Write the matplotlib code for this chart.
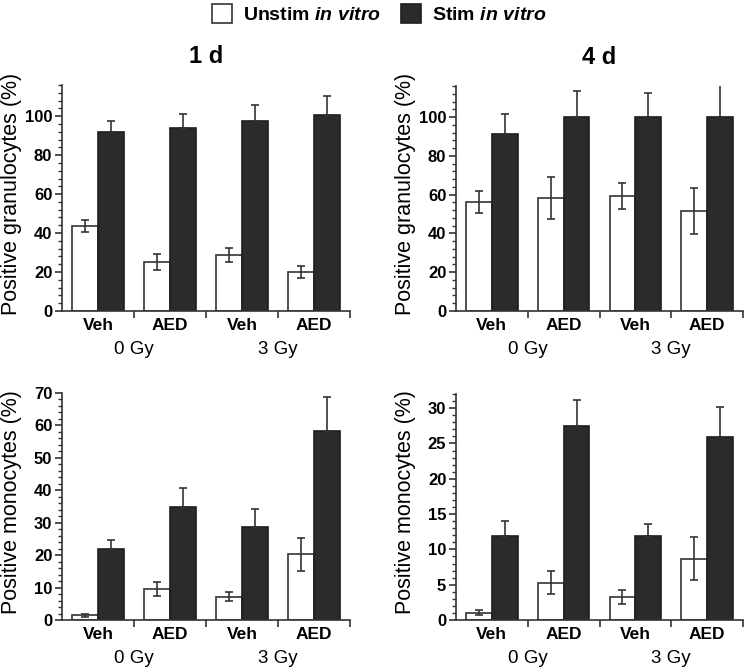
import matplotlib
matplotlib.use("Agg")
import matplotlib.pyplot as plt
from matplotlib.patches import Patch
from matplotlib.ticker import MultipleLocator, FixedLocator
import numpy as np

plt.rcParams['font.family'] = ['Liberation Sans', 'DejaVu Sans']
plt.rcParams['mathtext.fontset'] = 'custom'
plt.rcParams['mathtext.it'] = 'Liberation Sans:italic:bold'
plt.rcParams['mathtext.rm'] = 'Liberation Sans:bold'

# data
groups = ['Veh', 'AED', 'Veh', 'AED']
doses = ['0 Gy', '3 Gy']

gran_1d_unstim = [43.5, 25.3, 28.8, 20.0]
gran_1d_unstim_err = [3.2, 4.2, 3.7, 3.2]
gran_1d_stim = [91.7, 94.1, 97.4, 100.5]
gran_1d_stim_err = [5.6, 7.0, 8.2, 10.0]

gran_4d_unstim = [56.2, 58.3, 59.3, 51.6]
gran_4d_unstim_err = [5.5, 11.0, 6.6, 12.0]
gran_4d_stim = [91.3, 100.0, 100.0, 100.0]
gran_4d_stim_err = [10.4, 13.5, 12.2, 16.4]

mono_1d_unstim = [1.4, 9.6, 7.2, 20.2]
mono_1d_unstim_err = [0.4, 2.1, 1.4, 5.1]
mono_1d_stim = [22.0, 34.7, 28.7, 58.4]
mono_1d_stim_err = [2.7, 6.1, 5.6, 10.3]

mono_4d_unstim = [1.05, 5.3, 3.25, 8.7]
mono_4d_unstim_err = [0.4, 1.6, 0.95, 3.0]
mono_4d_stim = [11.9, 27.4, 11.9, 25.9]
mono_4d_stim_err = [2.1, 3.8, 1.7, 4.3]

W, H = 745, 671
fig = plt.figure(figsize=(W / 100, H / 100), dpi=100)


def px_axes(x0, y0, x1, y1):
    return fig.add_axes([x0 / W, 1 - y1 / H, (x1 - x0) / W, (y1 - y0) / H])


dark = '#2b2b2b'
ecol = '#333333'


def panel(ax, unstim, unstim_err, stim, stim_err, ymax, major, minor, ylabel, title=None):
    x = np.arange(len(groups))
    w = 0.36
    ax.bar(x - 0.18, unstim, w, color='white', edgecolor=ecol, linewidth=1.2, zorder=2)
    ax.bar(x + 0.18, stim, w, color=dark, edgecolor='#1e1e1e', linewidth=1.2, zorder=2)
    ax.errorbar(x - 0.18, unstim, yerr=unstim_err, fmt='none', ecolor=ecol,
                elinewidth=1.2, capsize=3, capthick=1.2, zorder=3)
    ax.errorbar(x + 0.18, stim, yerr=[np.zeros(len(stim)), stim_err], fmt='none',
                ecolor=ecol, elinewidth=1.2, capsize=3, capthick=1.2, zorder=3)
    ax.set_xlim(-0.5, 3.5)
    ax.set_ylim(0, ymax)
    for s in ['top', 'right']:
        ax.spines[s].set_visible(False)
    for s in ['left', 'bottom']:
        ax.spines[s].set_linewidth(1.2)
        ax.spines[s].set_color('#333333')
    ax.yaxis.set_major_locator(MultipleLocator(major))
    ax.yaxis.set_minor_locator(MultipleLocator(minor))
    ax.tick_params(axis='y', which='major', length=5, width=1.2, labelsize=12,
                   color='#333333', pad=2)
    ax.tick_params(axis='y', which='minor', length=3, width=1.0, color='#333333')
    ax.xaxis.set_major_locator(FixedLocator([0.5, 1.5, 2.5, 3.5]))
    ax.xaxis.set_minor_locator(FixedLocator(x))
    ax.set_xticklabels([], minor=False)
    ax.set_xticklabels(groups, minor=True)
    ax.tick_params(axis='x', which='major', length=5, width=1.2, color='#333333')
    ax.tick_params(axis='x', which='minor', length=0, labelsize=12.5, pad=5)
    for lab in ax.get_yticklabels() + ax.get_xticklabels(minor=True):
        lab.set_fontweight('bold')
    ax.set_ylabel(ylabel, fontsize=15.5)
    ax.yaxis.set_label_coords(-0.14, 0.52)
    for i, d in enumerate(doses):
        ax.annotate(d, xy=(0.5 + 2 * i, 0), xycoords=('data', 'axes fraction'),
                    xytext=(0, -28), textcoords='offset points', ha='center',
                    va='center', fontsize=13.5)
    if title:
        ax.set_title(title, fontsize=17, fontweight='bold', pad=16)


ax1 = px_axes(62, 85, 350, 311)
panel(ax1, gran_1d_unstim, gran_1d_unstim_err, gran_1d_stim, gran_1d_stim_err,
      116, 20, 4, 'Positive granulocytes (%)', '1 d')
ax2 = px_axes(456, 86, 743, 311)
panel(ax2, gran_4d_unstim, gran_4d_unstim_err, gran_4d_stim, gran_4d_stim_err,
      116, 20, 4, 'Positive granulocytes (%)', '4 d')
ax3 = px_axes(62, 393, 350, 620)
panel(ax3, mono_1d_unstim, mono_1d_unstim_err, mono_1d_stim, mono_1d_stim_err,
      70, 10, 2, 'Positive monocytes (%)')
ax4 = px_axes(456, 394, 743, 620)
panel(ax4, mono_4d_unstim, mono_4d_unstim_err, mono_4d_stim, mono_4d_stim_err,
      32, 5, 1, 'Positive monocytes (%)')

handles = [Patch(facecolor='white', edgecolor=ecol, linewidth=1.2),
           Patch(facecolor=dark, edgecolor='#1e1e1e', linewidth=1.2)]
labels = [r'Unstim $\mathit{in\ vitro}$', r'Stim $\mathit{in\ vitro}$']
fig.legend(handles, labels, loc='center', bbox_to_anchor=(0.509, 0.979), ncol=2,
           frameon=False, prop={'size': 14, 'weight': 'bold'}, handlelength=1.05,
           handleheight=1.15, handletextpad=0.55, columnspacing=1.0, borderpad=0)

fig.savefig('out.png', dpi=100)
